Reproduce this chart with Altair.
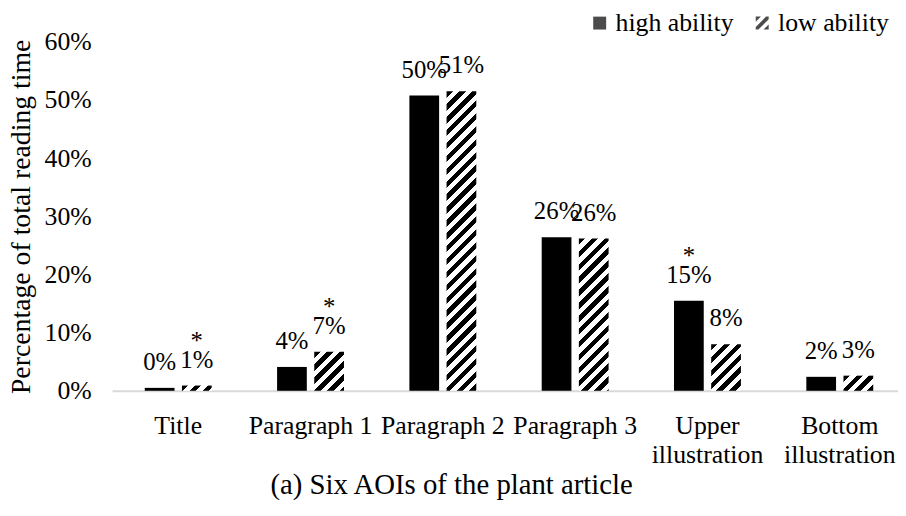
import altair as alt
import pandas as pd

# ---------------- data ----------------
categories = ["Title", "Paragraph 1", "Paragraph 2", "Paragraph 3",
              "Upper illustration", "Bottom illustration"]
groups = ["high ability", "low ability"]
high_values = [0.5, 4.1, 50.8, 26.4, 15.5, 2.4]
low_values = [0.9, 6.7, 51.5, 26.2, 8.0, 2.6]
high_labels = ["0%", "4%", "50%", "26%", "15%", "2%"]
low_labels = ["1%", "7%", "51%", "26%", "8%", "3%"]
high_marked = [False, False, False, False, True, False]
low_marked = [True, True, False, False, False, False]
y_ticks = [0, 10, 20, 30, 40, 50, 60]
y_title = "Percentage of total reading time"
chart_title = "(a) Six AOIs of the plant article"

# ---------------- styling constants ----------------
FONT = "Liberation Serif"
PAD_L, PAD_T, PAD_B = 105, 32, 110
W_PLOT = 793          # visible plot width (up to the window edge)
X_RANGE = 801         # band range (runs slightly past the window edge)
H_PLOT = 352
Y_MAX = 60
BAR = 30
STRIPE = 13.0         # vertical period of hatch stripes (px)
BLACK_FRAC = 0.5

rows = []
for i, c in enumerate(categories):
    for g, vals, labs, marks in ((groups[0], high_values, high_labels, high_marked),
                                 (groups[1], low_values, low_labels, low_marked)):
        rows.append({
            "category": c,
            "group": g,
            "value": vals[i],
            "label": labs[i],
            "star": "*" if marks[i] else "",
        })
df = pd.DataFrame(rows)


def hatch(value):
    h = max(value * H_PLOT / Y_MAX, 1.0)
    w = float(BAR)
    c = (w + h) * w * h / (w * w + h * h)
    x2 = c / h
    y2 = c / w
    period = STRIPE / (w + h)
    stops = []
    t = 0.0
    while t < 1.0 - 1e-9:
        t_mid = min(t + period * BLACK_FRAC, 1.0)
        t_end = min(t + period, 1.0)
        stops += [
            alt.GradientStop(offset=round(t, 5), color="black"),
            alt.GradientStop(offset=round(t_mid, 5), color="black"),
            alt.GradientStop(offset=round(t_mid, 5), color="white"),
            alt.GradientStop(offset=round(t_end, 5), color="white"),
        ]
        t += period
    return alt.LinearGradient(gradient="linear", stops=stops,
                              x1=0, y1=0, x2=round(x2, 5), y2=round(y2, 5))


HATCH_PATH = ("M-1,-1L-0.2,-1L-1,-0.2Z "
              "M-1,0.6L0.6,-1L1,-1L1,-0.6L-0.6,1L-1,1Z "
              "M0.2,1L1,0.2L1,1Z")

x_enc = alt.X("category:N", sort=categories,
              scale=alt.Scale(paddingInner=0, paddingOuter=0, rangeMax=X_RANGE),
              axis=alt.Axis(title=None, labelAngle=0, ticks=False,
                            domainColor="#d9d9d9", domainWidth=2,
                            labelFont=FONT, labelFontSize=26, labelColor="black",
                            labelPadding=22, labelLineHeight=29,
                            labelOverlap=False, labelBaseline="top",
                            labelExpr="indexof(datum.label, 'illustration') > 0 ? split(datum.label, ' ') : datum.label"))
xo_enc = alt.XOffset("group:N", sort=groups,
                     scale=alt.Scale(domain=groups, paddingInner=0, paddingOuter=0.78))
y_enc = alt.Y("value:Q",
              scale=alt.Scale(domain=[0, Y_MAX], nice=False),
              axis=alt.Axis(values=y_ticks, labelExpr="datum.value + '%'",
                            grid=False, ticks=False, domain=False,
                            labelFont=FONT, labelFontSize=26, labelColor="black",
                            labelPadding=21,
                            title=y_title, titleFont=FONT, titleFontSize=28,
                            titleFontWeight="normal", titleColor="black",
                            titlePadding=9))

base = alt.Chart(df).encode(x=x_enc, xOffset=xo_enc, y=y_enc)

high_bars = base.transform_filter(
    alt.datum.group == groups[0]).mark_bar(size=BAR, color="black")

low_layers = []
for c, v in zip(categories, low_values):
    low_layers.append(
        base.transform_filter(
            (alt.datum.group == groups[1]) & (alt.datum.category == c)
        ).mark_bar(size=BAR, fill=hatch(v), strokeWidth=0)
    )

legend_pts = base.mark_point(filled=True, color="black", size=0).encode(
    shape=alt.Shape("group:N", sort=groups,
                    scale=alt.Scale(domain=groups, range=["square", HATCH_PATH]),
                    legend=alt.Legend(title=None, orient="none", legendX=479, legendY=-32,
                                      direction="horizontal", labelFont=FONT,
                                      labelFontSize=26, labelColor="black",
                                      symbolSize=170, symbolStrokeWidth=0,
                                      labelOffset=3, columnPadding=15, padding=0))
)

labels = base.mark_text(font=FONT, fontSize=25, color="black", baseline="bottom",
                        dy=-13).encode(text="label:N")

stars = base.transform_filter(alt.datum.star != "").mark_text(
    font=FONT, fontSize=25, color="black", baseline="bottom", dy=-32
).encode(text="star:N")

chart = alt.layer(high_bars, *low_layers, legend_pts, labels, stars).properties(
    width=W_PLOT, height=H_PLOT,
    autosize=alt.AutoSizeParams(type="none"),
    padding={"left": PAD_L, "top": PAD_T, "right": 0, "bottom": PAD_B},
    title=alt.TitleParams(chart_title, orient="bottom", anchor="middle", frame="bounds",
                          font=FONT, fontSize=29, fontWeight="normal", color="black",
                          offset=4, dx=-5),
).configure_view(stroke=None)

chart.save("out.html", embed_options={"renderer": "svg", "actions": False})
